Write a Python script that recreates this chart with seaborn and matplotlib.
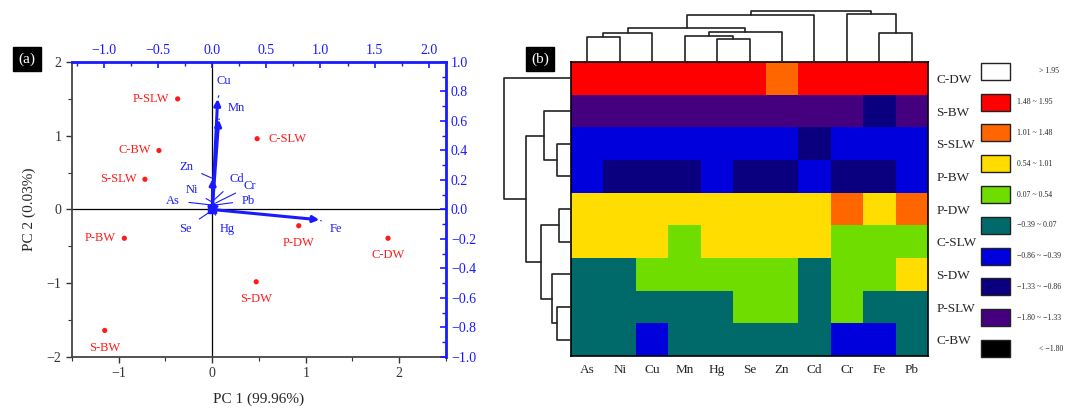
import numpy as np
import pandas as pd
import matplotlib
matplotlib.use('Agg')
import matplotlib.pyplot as plt
from matplotlib.colors import ListedColormap, BoundaryNorm
from matplotlib.patches import Rectangle
from matplotlib.ticker import MultipleLocator
import seaborn as sns

# PCA scores (PC1, PC2)
samples = ['P-SLW', 'C-SLW', 'C-BW', 'S-SLW', 'P-BW', 'P-DW', 'C-DW', 'S-DW', 'S-BW']
pc1 = [-0.37, 0.48, -0.57, -0.72, -0.94, 0.925, 1.88, 0.47, -1.15]
pc2 = [1.50, 0.96, 0.80, 0.41, -0.39, -0.22, -0.39, -0.98, -1.64]
score_pos = ['left', 'right', 'left', 'left', 'left', 'below', 'below', 'below', 'below']

# loadings (top / right axes)
elements = ['Cu', 'Mn', 'Zn', 'Fe', 'Cd', 'Cr', 'Pb', 'Ni', 'As', 'Se', 'Hg']
load1 = [0.05, 0.06, 0.005, 0.99, 0.01, 0.02, 0.02, 0.0, 0.0, -0.01, 0.01]
load2 = [0.75, 0.61, 0.21, -0.07, 0.06, 0.04, 0.03, 0.05, 0.03, -0.01, -0.02]
label1 = [0.11, 0.22, -0.24, 1.14, 0.23, 0.35, 0.33, -0.19, -0.36, -0.25, 0.14]
label2 = [0.87, 0.69, 0.29, -0.13, 0.21, 0.16, 0.06, 0.13, 0.06, -0.13, -0.13]

# heatmap (standardised values, clustered order)
hm_rows = ['C-DW', 'S-BW', 'S-SLW', 'P-BW', 'P-DW', 'C-SLW', 'S-DW', 'P-SLW', 'C-BW']
hm_cols = ['As', 'Ni', 'Cu', 'Mn', 'Hg', 'Se', 'Zn', 'Cd', 'Cr', 'Fe', 'Pb']
hm_vals = [
    [1.70, 1.70, 1.70, 1.70, 1.70, 1.70, 1.25, 1.70, 1.70, 1.70, 1.70],
    [-1.56, -1.56, -1.56, -1.56, -1.56, -1.56, -1.56, -1.56, -1.56, -1.10, -1.56],
    [-0.62, -0.62, -0.62, -0.62, -0.62, -0.62, -0.62, -1.10, -0.62, -0.62, -0.62],
    [-0.62, -1.10, -1.10, -1.10, -0.62, -1.10, -1.10, -0.62, -1.10, -1.10, -0.62],
    [0.78, 0.78, 0.78, 0.78, 0.78, 0.78, 0.78, 0.78, 1.25, 0.78, 1.25],
    [0.78, 0.78, 0.78, 0.30, 0.78, 0.78, 0.78, 0.78, 0.30, 0.30, 0.30],
    [-0.16, -0.16, 0.30, 0.30, 0.30, 0.30, 0.30, -0.16, 0.30, 0.30, 0.78],
    [-0.16, -0.16, -0.16, -0.16, -0.16, 0.30, 0.30, -0.16, 0.30, -0.16, -0.16],
    [-0.16, -0.16, -0.62, -0.16, -0.16, -0.16, -0.16, -0.16, -0.62, -0.62, -0.16],
]
bounds = [-2.5, -1.80, -1.33, -0.86, -0.39, 0.07, 0.54, 1.01, 1.48, 1.95, 2.5]
bin_colors = ['#000000', '#44007F', '#0A007F', '#0000DD', '#006A6A',
              '#70DD00', '#FFDD00', '#FF6600', '#FF0000', '#FFFFFF']
bin_labels = ['< \u22121.80', '\u22121.80 ~ \u22121.33', '\u22121.33 ~ \u22120.86',
              '\u22120.86 ~ \u22120.39', '\u22120.39 ~ 0.07', '0.07 ~ 0.54',
              '0.54 ~ 1.01', '1.01 ~ 1.48', '1.48 ~ 1.95', '> 1.95']

# dendrograms: (left, right, height), leaves are display positions
col_tree = (((((0, 1, 24.7), 2, 28.7), ((3, (4, 5, 22.7), 26.3), 6, 29.7), 34.3), 7, 47.0),
            (8, (9, 10, 28.7), 48.0), 51.3)
row_tree = (0, ((1, (2, 3, 13.7), 26.4), ((4, 5, 12.0), (6, (7, 8, 13.7), 18.4), 29.7), 45.0), 66.0)

sns.set_theme(style='white')
plt.rcParams['font.family'] = ['Liberation Serif', 'DejaVu Serif']
plt.rcParams['axes.unicode_minus'] = True

W, H = 1065, 409
fig = plt.figure(figsize=(W / 100, H / 100), dpi=100)


def px_axes(x0, y0, x1, y1, **kw):
    return fig.add_axes([x0 / W, 1 - y1 / H, (x1 - x0) / W, (y1 - y0) / H], **kw)


BLUE = '#1a1aff'
RED = '#ff1a1a'

# ---------- (a) PCA biplot ----------
ax = px_axes(72, 62, 446, 357)
ax.set_xlim(-1.5, 2.5)
ax.set_ylim(-2, 2)
ax.axhline(0, color='black', lw=0.9)
ax.axvline(0, color='black', lw=0.9)
ax.xaxis.set_major_locator(MultipleLocator(1))
ax.xaxis.set_minor_locator(MultipleLocator(0.5))
ax.yaxis.set_major_locator(MultipleLocator(1))
ax.yaxis.set_minor_locator(MultipleLocator(0.5))
ax.tick_params(which='both', direction='out', left=True, bottom=True,
               colors='#333333', labelsize=10)
ax.tick_params(which='major', length=4, width=1)
ax.tick_params(which='minor', length=3, width=0.8)
for s in ['left', 'bottom']:
    ax.spines[s].set_color('#444444')
    ax.spines[s].set_linewidth(1.3)
for s in ['top', 'right']:
    ax.spines[s].set_visible(False)
ax.set_xlabel('PC 1 (99.96%)', fontsize=11, labelpad=9)
ax.set_ylabel('PC 2 (0.03%)', fontsize=11, labelpad=8)

sns.scatterplot(x=pc1, y=pc2, ax=ax, color=RED, s=14, edgecolor='none', zorder=4)
offsets = {'left': ((-6, 0), 'right', 'center'), 'right': ((8, 0), 'left', 'center'),
           'below': ((0, -8), 'center', 'top')}
for name, x, y, pos in zip(samples, pc1, pc2, score_pos):
    off, ha, va = offsets[pos]
    ax.annotate(name, (x, y), xytext=off, textcoords='offset points',
                ha=ha, va=va, color=RED, fontsize=9)

k = 93.3 / 108
axl = px_axes(72, 62, 446, 357, facecolor='none')
axl.set_xlim(-1.5 * k, 2.5 * k)
axl.set_ylim(-1, 1)
axl.xaxis.tick_top()
axl.yaxis.tick_right()
axl.xaxis.set_major_locator(MultipleLocator(0.5))
axl.xaxis.set_minor_locator(MultipleLocator(0.25))
axl.yaxis.set_major_locator(MultipleLocator(0.2))
axl.yaxis.set_minor_locator(MultipleLocator(0.1))
axl.xaxis.set_major_formatter('{x:.1f}')
axl.yaxis.set_major_formatter('{x:.1f}')
axl.tick_params(which='both', direction='in', colors=BLUE, labelsize=10,
                top=True, right=True, bottom=False, left=False,
                labeltop=True, labelright=True, labelbottom=False, labelleft=False)
axl.tick_params(which='major', length=4, width=1.2)
axl.tick_params(which='minor', length=3, width=1)
for lbl in axl.get_xticklabels() + axl.get_yticklabels():
    lbl.set_color(BLUE)
for s in ['left', 'bottom']:
    axl.spines[s].set_visible(False)
for s in ['top', 'right']:
    axl.spines[s].set_color(BLUE)
    axl.spines[s].set_linewidth(2)

for name, x, y, lx, ly in zip(elements, load1, load2, label1, label2):
    big = abs(x) + abs(y) > 0.15
    axl.annotate('', xy=(x, y), xytext=(0, 0),
                 arrowprops=dict(arrowstyle='-|>', color=BLUE, lw=2.2 if big else 1.5,
                                 mutation_scale=9, shrinkA=0, shrinkB=0), zorder=5)
    axl.annotate(name, xy=(x, y), xytext=(lx, ly), textcoords='data', color=BLUE,
                 fontsize=9, ha='center', va='center',
                 arrowprops=dict(arrowstyle='-', color=BLUE, lw=0.8,
                                 shrinkA=4, shrinkB=1))
axl.scatter([0], [0], s=40, marker='s', color=BLUE, zorder=6)

# ---------- (b) clustered heatmap ----------
df = pd.DataFrame(hm_vals, index=hm_rows, columns=hm_cols)
cmap = ListedColormap(bin_colors)
norm = BoundaryNorm(bounds, cmap.N)

axh = px_axes(571, 62, 928, 356)
sns.heatmap(df, cmap=cmap, norm=norm, cbar=False, ax=axh, linewidths=0)
axh.yaxis.tick_right()
axh.tick_params(length=0, labelsize=9.5, pad=6)
axh.set_yticklabels(hm_rows, rotation=0, fontsize=9.5)
axh.set_xticklabels(hm_cols, rotation=0, fontsize=9.5)
for s in axh.spines.values():
    s.set_visible(True)
    s.set_color('black')
    s.set_linewidth(1.2)


def draw_tree(axd, node, orient):
    if isinstance(node, int):
        return node + 0.5, 0.0
    a, b, h = node
    ca, ha = draw_tree(axd, a, orient)
    cb, hb = draw_tree(axd, b, orient)
    xs = [ca, ca, cb, cb]
    ys = [ha, h, h, hb]
    if orient == 'top':
        axd.plot(xs, ys, color='#222222', lw=1.2)
    else:
        axd.plot(ys, xs, color='#222222', lw=1.2)
    return (ca + cb) / 2, h


axc = px_axes(571, 10, 928, 62)
draw_tree(axc, col_tree, 'top')
axc.set_xlim(0, len(hm_cols))
axc.set_ylim(0, 52.3)
axc.axis('off')

axr = px_axes(503, 62, 571, 356)
draw_tree(axr, row_tree, 'left')
axr.set_ylim(len(hm_rows), 0)
axr.set_xlim(67.3, 0)
axr.axis('off')

# legend of bins
axg = px_axes(975, 60, 1065, 368)
axg.set_xlim(0, 90)
axg.set_ylim(10, 0)
axg.axis('off')
for i, (c, t) in enumerate(zip(bin_colors[::-1], bin_labels[::-1])):
    axg.add_patch(Rectangle((6, i + 0.09), 29, 0.55, facecolor=c,
                            edgecolor='#222222', lw=1))
    tx = 64 if t[0] in '<>' else 42
    axg.text(tx, i + 0.37, t, fontsize=5.6, va='center', ha='left', clip_on=False)

# panel tags
for x, tag in [(27, '(a)'), (540, '(b)')]:
    fig.text(x / W, 1 - 59 / H, tag, color='white', fontsize=11, ha='center', va='center',
             bbox=dict(boxstyle='square,pad=0.35', facecolor='black', edgecolor='black'))

fig.savefig('out.png', dpi=100)
